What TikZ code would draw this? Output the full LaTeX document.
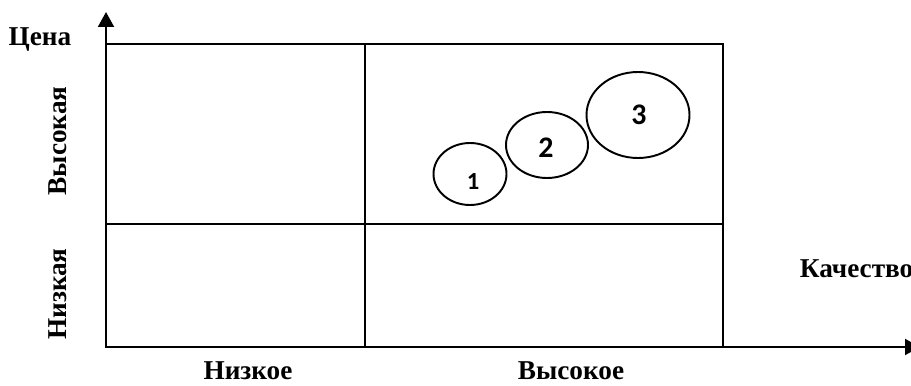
\documentclass[tikz,border=0pt]{standalone}
\usepackage{fontspec}
\setmainfont{Liberation Serif}
\newfontfamily\digitfont{Carlito}
\usepackage{tikz}
\usetikzlibrary{arrows.meta, positioning}

\begin{document}
\begin{tikzpicture}[>={Triangle[length=0.3cm,width=0.32cm]}, line width=1.1pt]
	\tikzstyle{label} = [font=\fontsize{15.5}{18}\selectfont\bfseries, inner sep=0pt]
	\tikzstyle{num} = [font=\digitfont\fontsize{17}{19}\selectfont\bfseries, inner sep=0pt]

	\useasboundingbox (-2.12,-0.76) rectangle (16.1,6.94);

	% axes
	\coordinate (O) at (0,0);
	\coordinate (ytip) at (0,6.7);
	\coordinate (xtip) at (16.28,0);
	\draw[->] (O) -- (ytip);
	\draw[->] (O) -- (xtip);

	% matrix
	\draw (O) rectangle (12.34,6.06);
	\draw (5.18,0) -- (5.18,6.06);
	\draw (0,2.46) -- (12.34,2.46);

	% products
	\draw (7.28,3.46) ellipse [x radius=0.73cm, y radius=0.62cm];
	\draw (8.82,4.04) ellipse [x radius=0.82cm, y radius=0.66cm];
	\draw (10.64,4.64) ellipse [x radius=1.03cm, y radius=0.86cm];
	\node[num, font=\digitfont\fontsize{14}{16}\selectfont\bfseries] (p1) at (7.34,3.30) {1};
	\node[num] (p2) at (8.80,3.98) {2};
	\node[num] (p3) at (10.66,4.64) {3};

	% labels
	\node[label] (price) at (-1.32,6.16) {Цена};
	\node[label, rotate=90] (high) at (-0.97,4.12) {Высокая};
	\node[label, rotate=90] (low) at (-0.96,1.06) {Низкая};
	\node[label] (qlow) at (2.84,-0.47) {Низкое};
	\node[label] (qhigh) at (9.30,-0.47) {Высокое};
	\node[label, anchor=west] (quality) at (13.86,1.56) {Качество};
\end{tikzpicture}
\end{document}
